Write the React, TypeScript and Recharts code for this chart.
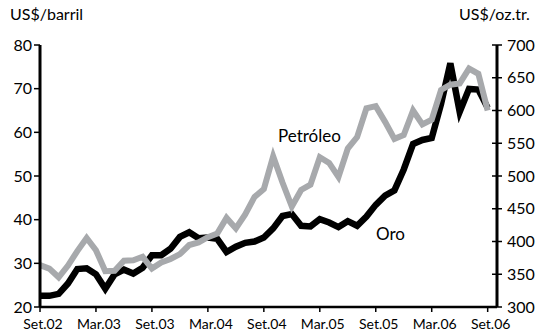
import { LineChart, Line, XAxis, YAxis } from 'recharts';

// monthly, Set.02 .. Set.06
const OIL = [
  29.6, 28.8, 26.8, 29.5, 32.8, 35.8, 33.0, 28.2, 28.3, 30.6, 30.7, 31.5,
  28.8, 30.2, 31.0, 32.1, 34.2, 34.8, 36.0, 36.8, 40.4, 38.0, 41.2, 45.2,
  47.0, 54.5, 48.5, 43.0, 46.8, 48.0, 54.3, 53.0, 49.8, 56.3, 58.9, 65.5,
  66.0, 62.4, 58.5, 59.4, 65.0, 61.8, 62.9, 69.7, 70.9, 71.2, 74.6, 73.4,
  65.0,
];

const GOLD = [
  317, 317, 320, 336, 358, 359, 350, 328, 350, 357, 351, 360,
  379, 379, 389, 407, 414, 405, 406, 404, 384, 392, 398, 400,
  406, 420, 439, 442, 424, 423, 434, 429, 422, 431, 424, 438,
  456, 470, 478, 510, 549, 555, 558, 610, 672, 598, 633, 632,
  604,
];

const TICK_MONTHS = [0, 6, 12, 18, 24, 30, 36, 42, 48];
const TICK_LABELS = ['Set.02', 'Mar.03', 'Set.03', 'Mar.04', 'Set.04', 'Mar.05', 'Set.05', 'Mar.06', 'Set.06'];
const OIL_TICKS = [20, 30, 40, 50, 60, 70, 80];
const GOLD_TICKS = [300, 350, 400, 450, 500, 550, 600, 650, 700];

const data = OIL.map((v, i) => ({ m: i, oil: v, gold: GOLD[i] }));

const NUM_FONT = "'Liberation Sans Narrow', Lato, sans-serif";
const TEXT_FONT = 'Lato, sans-serif';

const RightTick = ({ x, y, payload }: any) => (
  <g>
    <line x1={x - 15} x2={x - 5} y1={y} y2={y} stroke="#000" strokeWidth={1.5} />
    <text x={x} y={y} dy="0.35em" textAnchor="start" fontSize={16} fontFamily={NUM_FONT} fill="#000">
      {payload.value}
    </text>
  </g>
);

export default function App() {
  return (
    <div style={{ position: 'absolute', left: 0, top: 0, width: 545, height: 336, background: '#fff' }}>
      <LineChart width={545} height={336} data={data} margin={{ top: 45, right: 0, left: 0, bottom: 0 }}>
        <XAxis
          type="number"
          dataKey="m"
          domain={[0, 49]}
          ticks={TICK_MONTHS}
          tickFormatter={(v) => TICK_LABELS[TICK_MONTHS.indexOf(v)]}
          height={29}
          tickSize={5}
          tickMargin={7}
          axisLine={{ stroke: '#000', strokeWidth: 2.5 }}
          tickLine={{ stroke: '#000', strokeWidth: 1.5 }}
          tick={{ fontSize: 14, fontFamily: NUM_FONT, fill: '#000', dx: 3 } as any}
          interval={0}
        />
        <YAxis
          yAxisId="oil"
          domain={[20, 80]}
          ticks={OIL_TICKS}
          width={40}
          tickSize={6}
          tickMargin={2}
          axisLine={{ stroke: '#000', strokeWidth: 3 }}
          tickLine={{ stroke: '#000', strokeWidth: 1.5 }}
          tick={{ fontSize: 16, fontFamily: NUM_FONT, fill: '#000' }}
          interval={0}
        />
        <YAxis
          yAxisId="gold"
          orientation="right"
          domain={[300, 700]}
          ticks={GOLD_TICKS}
          width={48}
          tickSize={5}
          tickMargin={5}
          axisLine={{ stroke: '#000', strokeWidth: 3 }}
          tickLine={false}
          tick={<RightTick />}
          interval={0}
        />
        <Line
          yAxisId="gold"
          dataKey="gold"
          stroke="#000"
          strokeWidth={6.5}
          strokeLinejoin="miter"
          dot={false}
          isAnimationActive={false}
        />
        <Line
          yAxisId="oil"
          dataKey="oil"
          stroke="#a7a9ac"
          strokeWidth={6}
          strokeLinejoin="miter"
          dot={false}
          isAnimationActive={false}
        />
      </LineChart>
      <div style={{ position: 'absolute', left: 10, top: 6, fontSize: 16, fontFamily: TEXT_FONT, lineHeight: 1 }}>US$/barril</div>
      <div style={{ position: 'absolute', left: 459, top: 6, fontSize: 16, fontFamily: TEXT_FONT, lineHeight: 1 }}>US$/oz.tr.</div>
      <div style={{ position: 'absolute', left: 278, top: 127, fontSize: 17, fontFamily: TEXT_FONT, lineHeight: 1 }}>Petróleo</div>
      <div style={{ position: 'absolute', left: 376, top: 225, fontSize: 17, fontFamily: TEXT_FONT, lineHeight: 1 }}>Oro</div>
    </div>
  );
}
